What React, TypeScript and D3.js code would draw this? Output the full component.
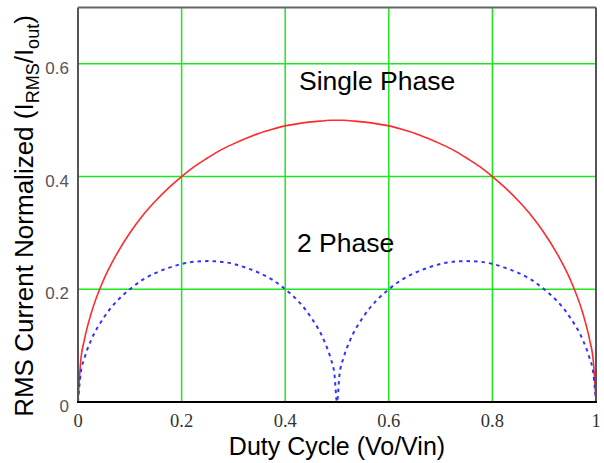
import React from "react";
import * as d3 from "d3";

const duty = [
  0, 0.005, 0.0125, 0.025, 0.05, 0.075, 0.1, 0.125, 0.15, 0.175, 0.2, 0.225, 0.25,
  0.275, 0.3, 0.325, 0.35, 0.375, 0.4, 0.425, 0.45, 0.475, 0.4875, 0.495, 0.5,
  0.505, 0.5125, 0.525, 0.55, 0.575, 0.6, 0.625, 0.65, 0.675, 0.7, 0.725, 0.75,
  0.775, 0.8, 0.825, 0.85, 0.875, 0.9, 0.925, 0.95, 0.975, 0.9875, 0.995, 1,
];
const singlePhase = [
  0, 0.0705, 0.111, 0.156, 0.218, 0.263, 0.3, 0.331, 0.357, 0.38, 0.4, 0.418, 0.433,
  0.447, 0.458, 0.468, 0.477, 0.484, 0.49, 0.494, 0.497, 0.499, 0.5, 0.5, 0.5,
  0.5, 0.5, 0.499, 0.497, 0.494, 0.49, 0.484, 0.477, 0.468, 0.458, 0.447, 0.433,
  0.418, 0.4, 0.38, 0.357, 0.331, 0.3, 0.263, 0.218, 0.156, 0.111, 0.0705, 0,
];
const twoPhase = [
  0, 0.0497, 0.078, 0.109, 0.15, 0.179, 0.2, 0.217, 0.229, 0.238, 0.245, 0.249, 0.25,
  0.249, 0.245, 0.238, 0.229, 0.217, 0.2, 0.179, 0.15, 0.109, 0.078, 0.0497, 0,
  0.0497, 0.078, 0.109, 0.15, 0.179, 0.2, 0.217, 0.229, 0.238, 0.245, 0.249, 0.25,
  0.249, 0.245, 0.238, 0.229, 0.217, 0.2, 0.179, 0.15, 0.109, 0.078, 0.0497, 0,
];
const xTicks = [0, 0.2, 0.4, 0.6, 0.8, 1];
const xTickLabels = ["0", "0.2", "0.4", "0.6", "0.8", "1"];
const yTicks = [0, 0.2, 0.4, 0.6];
const yTickLabels = ["0", "0.2", "0.4", "0.6"];
const xTitle = "Duty Cycle (Vo/Vin)";
const labelSingle = "Single Phase";
const labelTwo = "2 Phase";

const W = 604;
const H = 463;
const L = 78, R = 596, T = 7.5, B = 402;

export default function App() {
  const x = d3.scaleLinear().domain([0, 1]).range([L, R]);
  const y = d3.scaleLinear().domain([0, 0.7]).range([B, T]);
  const line = d3
    .line<number>()
    .x((_, i) => x(duty[i]))
    .y((v) => y(v))
    .curve(d3.curveMonotoneX);
  const sans = "Liberation Sans, Arial, sans-serif";
  const serif = "Liberation Serif, Times New Roman, serif";
  return (
    <svg
      width={W}
      height={H}
      style={{ position: "absolute", left: 0, top: 0, background: "#fff" }}
    >
      <rect x={0} y={0} width={W} height={H} fill="#fff" />
      {xTicks.slice(1, -1).map((t) => (
        <line key={"gx" + t} x1={x(t)} x2={x(t)} y1={T} y2={B} stroke="#1ee61e" strokeWidth={1.5} />
      ))}
      {yTicks.slice(1).map((t) => (
        <line key={"gy" + t} x1={L} x2={R} y1={y(t)} y2={y(t)} stroke="#1ee61e" strokeWidth={1.5} />
      ))}
      <path d={line(singlePhase) || ""} fill="none" stroke="#ff2a2a" strokeWidth={1.6} />
      <path
        d={line(twoPhase) || ""}
        fill="none"
        stroke="#3333ff"
        strokeWidth={2}
        strokeDasharray="3.5,4"
      />
      <line x1={L} x2={L} y1={T} y2={B} stroke="#555" strokeWidth={2} />
      <line x1={L} x2={R} y1={T} y2={T} stroke="#666" strokeWidth={2} />
      <line x1={R} x2={R} y1={T} y2={B} stroke="#555" strokeWidth={2} />
      <line x1={L - 1} x2={R + 1} y1={B} y2={B} stroke="#000" strokeWidth={2} />
      {xTicks.map((t, i) => (
        <text
          key={"xt" + t}
          x={x(t)}
          y={427}
          textAnchor="middle"
          fontFamily={serif}
          fontSize={18.5}
          fill="#333"
        >
          {xTickLabels[i]}
        </text>
      ))}
      {yTicks.map((t, i) => (
        <text
          key={"yt" + t}
          x={69}
          y={y(t) + 10}
          textAnchor="end"
          fontFamily={sans}
          fontSize={17}
          fill="#555"
        >
          {yTickLabels[i]}
        </text>
      ))}
      <text x={(L + R) / 2} y={455} textAnchor="middle" fontFamily={sans} fontSize={25} fill="#000">
        {xTitle}
      </text>
      <text
        transform={`translate(33,216) rotate(-90)`}
        textAnchor="middle"
        fontFamily={sans}
        fontSize={26}
        fill="#000"
      >
        <tspan>RMS Current Normalized (I</tspan>
        <tspan fontSize={18} dy={6}>RMS</tspan>
        <tspan dy={-6}>/I</tspan>
        <tspan fontSize={18} dy={6}>out</tspan>
        <tspan dy={-6}>)</tspan>
      </text>
      <text x={299} y={90} fontFamily={sans} fontSize={26.5} fill="#000">
        {labelSingle}
      </text>
      <text x={297} y={252} fontFamily={sans} fontSize={26.5} fill="#000">
        {labelTwo}
      </text>
    </svg>
  );
}
